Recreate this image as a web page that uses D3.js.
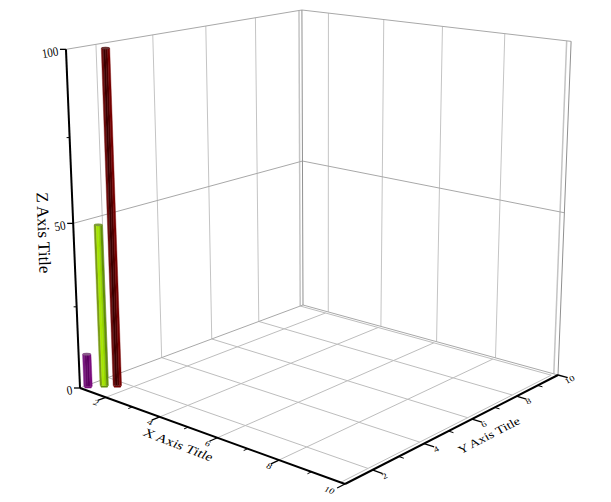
<!DOCTYPE html>
<html>
<head>
<meta charset="utf-8">
<script src="https://cdn.jsdelivr.net/npm/d3@7"></script>
<style>
    body { margin: 0; background: #fff; }
    text { font-family: "Liberation Serif", serif; fill: #000; text-rendering: geometricPrecision; }
</style>
</head>
<body>
<div id="chart"></div>
<script>
// data
const barX = [1.07, 1.35, 1.62];
const barY = [1.22, 1.54, 1.76];
const barZ = [10, 49, 100];
const barColors = [
    ["#7a1a80", "#640a68", "#5a0060", "#7a0c7c"],
    ["#7a9a18", "#a8e800", "#98d800", "#628f08"],
    ["#6e0c0c", "#3a0000", "#4a0000", "#760000"]
];
const barCaps = ["#8a5a8a", "#7f9c40", "#6a3434"];

const xMajor = [2, 4, 6, 8, 10];
const xMinor = [3, 5, 7, 9];
const yMajor = [2, 4, 6, 8, 10];
const yMinor = [3, 5, 7, 9];
const zMajor = [0, 50, 100];
const zMinor = [25, 75];

const width = 611, height = 502;

const svg = d3.select("#chart").append("svg")
    .attr("width", width)
    .attr("height", height);

// scales go from data to the unit box, the camera does the rest
const x = d3.scaleLinear().domain([1, 10]).range([0, 1]);
const y = d3.scaleLinear().domain([1, 10]).range([0, 1]);
const z = d3.scaleLinear().domain([0, 100]).range([0, 1]);

// camera: floor corners, back corner top, vanishing point of the verticals
const c0 = [80, 388], c1 = [345, 484], c2 = [558, 375], c3 = [303, 305];
const backTop = 10, vanish = [325, 6300];

const sx = c0[0] - c1[0] + c2[0] - c3[0], sy = c0[1] - c1[1] + c2[1] - c3[1];
const dx1 = c1[0] - c2[0], dx2 = c3[0] - c2[0], dy1 = c1[1] - c2[1], dy2 = c3[1] - c2[1];
const den = dx1 * dy2 - dx2 * dy1;
const g = (sx * dy2 - dx2 * sy) / den, h = (dx1 * sy - sx * dy1) / den;
const a = c1[0] - c0[0] + g * c1[0], b = c3[0] - c0[0] + h * c3[0];
const d = c1[1] - c0[1] + g * c1[1], e = c3[1] - c0[1] + h * c3[1];
const s = (h + 1) * (backTop - c3[1]) / (vanish[1] - backTop);

function project(px, py, pz) {
    const u = x(px), v = y(py), t = z(pz);
    const w = g * u + h * v + 1 + s * t;
    return [
        (a * u + b * v + c0[0] + s * t * vanish[0]) / w,
        (d * u + e * v + c0[1] + s * t * vanish[1]) / w
    ];
}

const line = d3.line();

function seg(p, q, color, sw) {
    svg.append("path")
        .attr("d", line([project(...p), project(...q)]))
        .attr("fill", "none")
        .attr("stroke", color)
        .attr("stroke-width", sw);
}

const gridColor = "#bdbdbd", edgeColor = "#a8a8a8", inner = 9.87;

// floor grid
[2, 4, 6, 8].forEach(t => {
    seg([t, 1, 0], [t, inner, 0], gridColor, 1);
    seg([1, t, 0], [inner, t, 0], gridColor, 1);
});
seg([1, inner, 0], [inner, inner, 0], gridColor, 1);
seg([inner, 1, 0], [inner, inner, 0], gridColor, 1);

// left wall
[2, 4, 6, 8].forEach(t => seg([1, t, 0], [1, t, 100], "#c4c4c4", 1));
seg([1, inner, 0], [1, inner, 100], "#c4c4c4", 1.5);
seg([1, 1, 50], [1, 10, 50], edgeColor, 1);
seg([1, 1, 100], [1, 10, 100], edgeColor, 1);
seg([1, 1, 0], [1, 10, 0], edgeColor, 1);

// back wall
[2, 4, 6, 8].forEach(t => seg([t, 10, 0], [t, 10, 100], "#c4c4c4", 1));
seg([inner, 10, 0], [inner, 10, 100], "#c4c4c4", 1.5);
seg([1, 10, 50], [10, 10, 50], edgeColor, 1);
seg([1, 10, 100], [10, 10, 100], edgeColor, 1);
seg([1, 10, 0], [10, 10, 0], edgeColor, 1);
seg([1, 10, 0], [1, 10, 100], "#909090", 1);
seg([10, 10, 0], [10, 10, 100], "#909090", 1);

// bars, four faces side by side
const halfW = 4.2;

barZ.forEach((val, i) => {
    const base = project(barX[i], barY[i], 0);
    const top = project(barX[i], barY[i], val);
    const faces = d3.scaleLinear().domain([0, 4]).range([-halfW, halfW]);

    svg.append("path")
        .attr("d", line([
            [base[0] - halfW + 1, base[1] + 2], [base[0] + halfW - 1, base[1] + 2],
            [base[0] + halfW, base[1]], [base[0] - halfW, base[1]]
        ]) + "Z")
        .attr("fill", barColors[i][3]);

    barColors[i].forEach((col, k) => {
        svg.append("path")
            .attr("d", line([
                [top[0] + faces(k), top[1]], [top[0] + faces(k + 1), top[1]],
                [base[0] + faces(k + 1), base[1]], [base[0] + faces(k), base[1]]
            ]) + "Z")
            .attr("fill", col)
            .attr("stroke", col)
            .attr("stroke-width", 0.4);
    });

    svg.append("ellipse")
        .attr("cx", top[0])
        .attr("cy", top[1])
        .attr("rx", halfW)
        .attr("ry", 1.4)
        .attr("fill", barCaps[i]);
});

// axes
seg([1, 1, 0], [10, 1, 0], "#000", 2);
seg([10, 1, 0], [10, 10, 0], "#000", 2);
seg([1, 1, 0], [1, 1, 100], "#000", 2);

xMajor.forEach(t => seg([t, 1, 0], [t, 0.72, 0], "#000", 1.3));
xMinor.forEach(t => seg([t, 1, 0], [t, 0.86, 0], "#000", 1));
yMajor.forEach(t => seg([10, t, 0], [10.3, t, 0], "#000", 1.3));
yMinor.forEach(t => seg([10, t, 0], [10.15, t, 0], "#000", 1));

zMajor.forEach(t => {
    const p = project(1, 1, t);
    svg.append("path")
        .attr("d", line([[p[0] - 6, p[1]], p]))
        .attr("stroke", "#000")
        .attr("stroke-width", 1.3);
    svg.append("text")
        .attr("transform", `translate(${p[0] - 7},${p[1] + 6}) rotate(-10) scale(0.85,1)`)
        .attr("text-anchor", "end")
        .attr("font-size", 13)
        .text(t);
});
zMinor.forEach(t => {
    const p = project(1, 1, t);
    svg.append("path")
        .attr("d", line([[p[0] - 3, p[1]], p]))
        .attr("stroke", "#000")
        .attr("stroke-width", 1);
});

// labels lying in the floor plane
const xMatrix = (p, ox, oy) => `matrix(0.93,0.36,-0.45,0.7,${p[0] + ox},${p[1] + oy})`;
const yMatrix = (p, ox, oy) => `matrix(0.89,-0.46,0.4,0.7,${p[0] + ox},${p[1] + oy})`;

xMajor.forEach(t => {
    svg.append("text")
        .attr("transform", xMatrix(project(t, 0.68, 0), t === 10 ? -8 : -2, 4))
        .attr("text-anchor", "middle")
        .attr("font-size", 10)
        .text(t);
});
yMajor.forEach(t => {
    svg.append("text")
        .attr("transform", yMatrix(project(10.4, t, 0), 0, 3.5))
        .attr("text-anchor", "middle")
        .attr("font-size", 10)
        .text(t);
});

svg.append("text")
    .attr("transform", xMatrix(project(5.55, 0.1, 0), -2, 4))
    .attr("text-anchor", "middle")
    .attr("font-size", 15)
    .text("X Axis Title");

svg.append("text")
    .attr("transform", yMatrix(project(10.75, 5.6, 0), 3, 7))
    .attr("text-anchor", "middle")
    .attr("font-size", 14)
    .text("Y Axis Title");

svg.append("text")
    .attr("transform", "translate(38,233) rotate(88)")
    .attr("text-anchor", "middle")
    .attr("font-size", 17)
    .text("Z Axis Title");
</script>
</body>
</html>
